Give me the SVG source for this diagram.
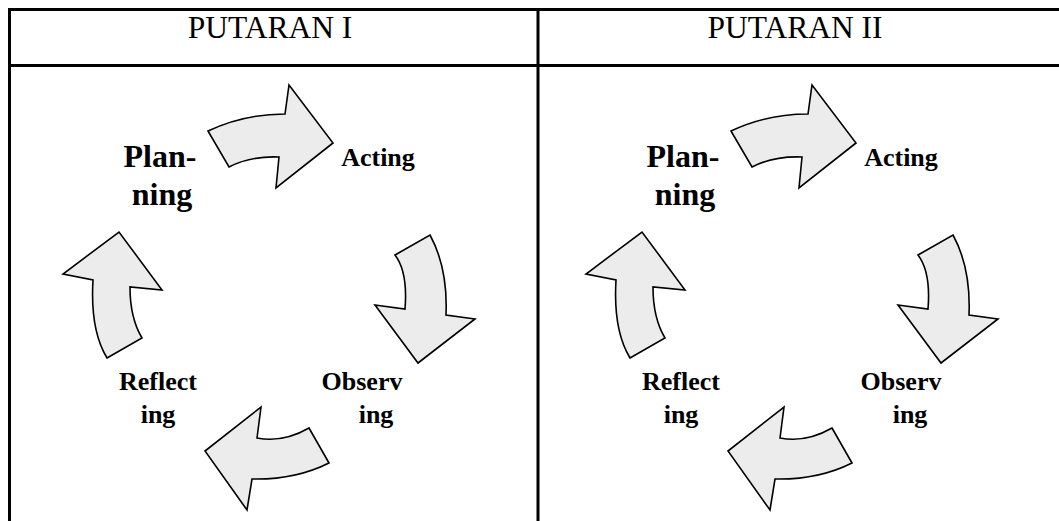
<svg xmlns="http://www.w3.org/2000/svg" width="1059" height="521" viewBox="0 0 1059 521">
<style>
.grid{stroke:#000;stroke-width:3;fill:none}
.arr{fill:#ececec;stroke:#000;stroke-width:1.6;stroke-linejoin:miter}
.hdr{font-family:"Liberation Serif","Times New Roman",serif;font-size:31.5px;text-anchor:middle;fill:#000}
.lbl{font-family:"Liberation Serif","Times New Roman",serif;font-weight:bold;font-size:26px;text-anchor:middle;fill:#000}
.big{font-family:"Liberation Serif","Times New Roman",serif;font-weight:bold;font-size:32px;text-anchor:middle;fill:#000}
</style>
<defs>
<g id="cycle">
<path class="arr" d="M208,131 Q244,114 285,114 L289,85 L333,143 L276,188 L279,157 Q250,156 229,167 Z"/>
<path class="arr" d="M395,255 L430,235 Q448,268 446,315 L475,319 L418,363 L375,305 L405,309 Q408,272 395,255 Z"/>
<path class="arr" d="M309,428 L329,463 Q295,480 252,479 L247,510 L205,451 L261,407 L257,438 Q283,443 309,428 Z"/>
<path class="arr" d="M107,358 L142,338 Q130,318 130,287 L162,290 L119,232 L63,274 L93,280 Q90,330 107,358 Z"/>
</g>
</defs>
<g id="table">
<line class="grid" x1="9" y1="9.5" x2="1059" y2="9.5"/>
<line class="grid" x1="9" y1="65.5" x2="1059" y2="65.5"/>
<line class="grid" x1="9.5" y1="8" x2="9.5" y2="521"/>
<line class="grid" x1="538" y1="8" x2="538" y2="521"/>
<text class="hdr" x="270" y="38">PUTARAN I</text>
<text class="hdr" x="795" y="38">PUTARAN II</text>
</g>
<g id="connectors">
<use href="#cycle"/>
<use href="#cycle" transform="translate(523,0)"/>
</g>
<g id="planning1"><text class="big" x="160" y="167">Plan-</text><text class="big" x="162" y="205">ning</text></g>
<g id="acting1"><text class="lbl" x="378" y="166">Acting</text></g>
<g id="observing1"><text class="lbl" x="362" y="390">Observ</text><text class="lbl" x="376" y="423">ing</text></g>
<g id="reflecting1"><text class="lbl" x="158" y="390">Reflect</text><text class="lbl" x="158" y="423">ing</text></g>
<g id="planning2"><text class="big" x="683" y="167">Plan-</text><text class="big" x="685" y="205">ning</text></g>
<g id="acting2"><text class="lbl" x="901" y="166">Acting</text></g>
<g id="observing2"><text class="lbl" x="901" y="390">Observ</text><text class="lbl" x="910" y="423">ing</text></g>
<g id="reflecting2"><text class="lbl" x="681" y="390">Reflect</text><text class="lbl" x="681" y="423">ing</text></g>
</svg>
